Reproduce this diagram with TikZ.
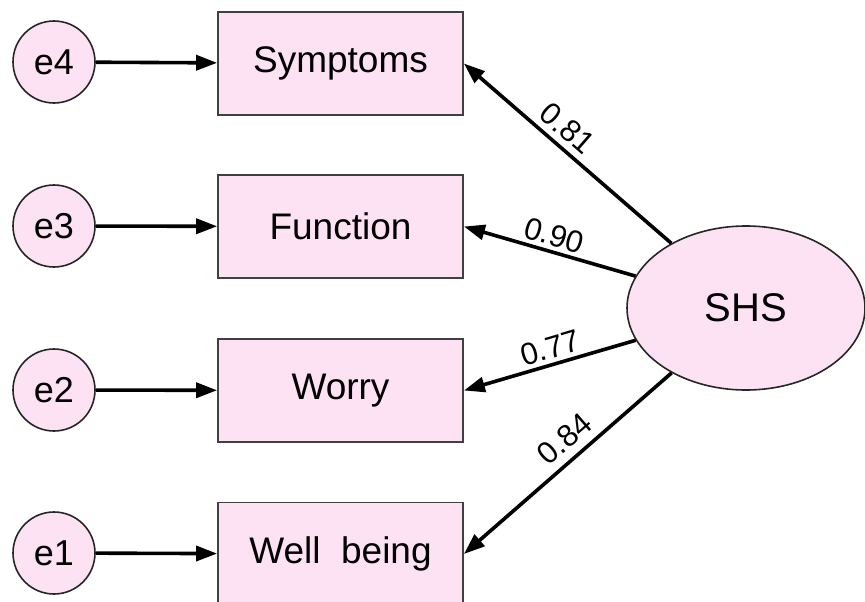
\documentclass[tikz,border=0pt]{standalone}
\usepackage{fontspec}
\setmainfont{Liberation Sans}
\usetikzlibrary{arrows.meta,shapes.geometric}
\definecolor{pinkfill}{RGB}{253,226,244}
\begin{document}
\begin{tikzpicture}[x=0.5pt,y=0.5pt,
  err/.style={circle,draw=black!85,line width=0.8pt,fill=pinkfill,minimum size=41pt,inner sep=0pt,font=\fontsize{18}{21}\selectfont},
  obs/.style={rectangle,draw=black!75,line width=0.9pt,fill=pinkfill,minimum width=122.5pt,minimum height=51.5pt,inner sep=0pt,font=\fontsize{18.5}{21}\selectfont},
  lat/.style={ellipse,draw=black!85,line width=0.8pt,fill=pinkfill,minimum width=119pt,minimum height=82pt,inner sep=0pt,font=\fontsize{20}{24}\selectfont},
  link/.style={-{Triangle[length=10.5pt,width=7.5pt]},line width=1.8pt},
  coef/.style={sloped,above,font=\fontsize{15.5}{18}\selectfont,inner sep=2pt}
]
\useasboundingbox (0,0) rectangle (865,601);
\node[err] (e4) at (54,539) {e4};
\node[err] (e3) at (54,375) {e3};
\node[err] (e2) at (54,211) {e2};
\node[err] (e1) at (54,48) {e1};
\node[obs] (S) at (340.5,537.5) {Symptoms};
\node[obs] (F) at (340.5,374.5) {Function};
\node[obs] (W) at (340.5,210.5) {Worry};
\node[obs] (B) at (340.5,47) {Well\ \ being};
\node[lat] (shs) at (746,293) {SHS};
\draw[link] (e4) -- (S);
\draw[link] (e3) -- (F);
\draw[link] (e2) -- (W);
\draw[link] (e1) -- (B);
\draw[link] (shs) -- (S.east) node[coef,pos=0.56,inner sep=3pt] {0.81};
\draw[link] (shs) -- (F.east) node[coef,pos=0.5] {0.90};
\draw[link] (shs) -- (W.east) node[coef,pos=0.47] {0.77};
\draw[link] (shs) -- (B.east) node[coef,pos=0.45,inner sep=4pt] {0.84};
\end{tikzpicture}
\end{document}
